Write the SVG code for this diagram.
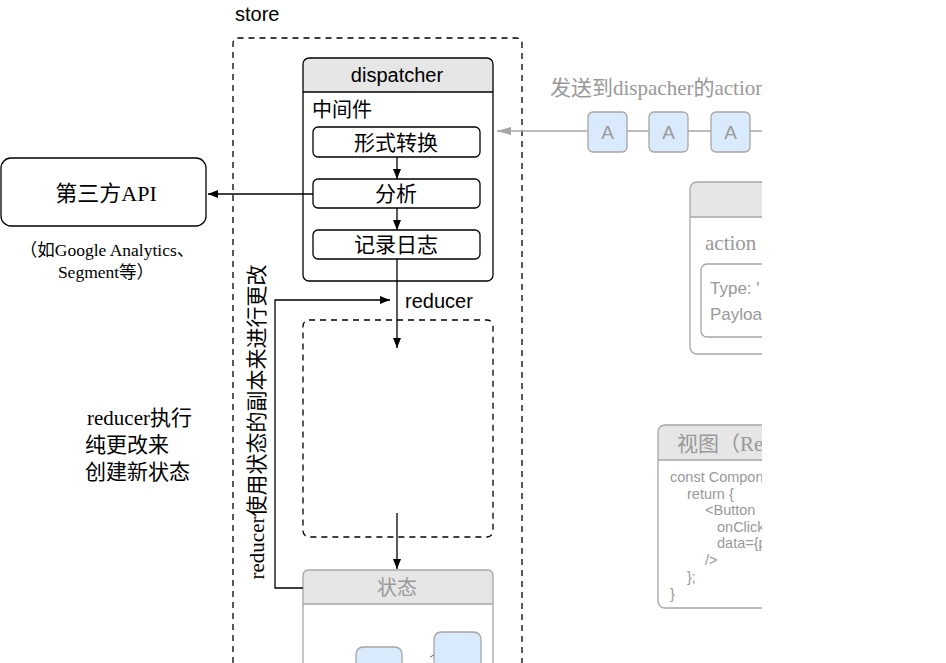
<svg xmlns="http://www.w3.org/2000/svg" width="946" height="663" viewBox="0 0 946 663">
<defs>
<style>
.sans{font-family:"Liberation Sans","Noto Sans CJK SC",sans-serif}
.serif{font-family:"Liberation Serif","Noto Sans CJK SC",serif}
.blk{fill:none;stroke:#000;stroke-width:1.3}
.gry{fill:none;stroke:#a6a6a6;stroke-width:1.3}
.hdr{fill:#e6e6e6}
.abox{fill:#d8eafb;stroke:#a6a6a6;stroke-width:1.3}
.gt{fill:#999}
</style>
<marker id="ab" viewBox="0 0 10 10" refX="10" refY="5" markerWidth="10" markerHeight="10" markerUnits="userSpaceOnUse" orient="auto"><path d="M0,1 L10,5 L0,9 z" fill="#000"/></marker>
<marker id="ag" viewBox="0 0 14 10" refX="0" refY="5" markerWidth="14" markerHeight="10" markerUnits="userSpaceOnUse" orient="auto"><path d="M14,1 L0,5 L14,9 z" fill="#a6a6a6"/></marker>
<clipPath id="clip"><rect x="0" y="0" width="762" height="663"/></clipPath>
</defs>
<rect width="946" height="663" fill="#fff"/>
<g clip-path="url(#clip)">
<g id="store">
<path d="M233,663 V44 Q233,38 239,38 H516 Q522,38 522,44 V663" fill="none" stroke="#000" stroke-width="1.3" stroke-dasharray="6,5"/>
<text x="235" y="21" class="sans" font-size="20">store</text>
</g>
<g id="dispatcher">
<path d="M303,92 V64 Q303,58 309,58 H487 Q493,58 493,64 V92 z" class="hdr"/>
<rect x="303" y="58" width="190" height="223" rx="6" class="blk"/>
<line x1="303" y1="92" x2="493" y2="92" stroke="#000" stroke-width="1.3"/>
<text x="397" y="82" text-anchor="middle" class="sans" font-size="20">dispatcher</text>
<text x="312" y="117" class="sans" font-size="20">中间件</text>
</g>
<g id="n-transform">
<rect x="313" y="127" width="167" height="30" rx="5" class="blk" fill="#fff"/>
<text x="396" y="150" text-anchor="middle" class="serif" font-size="21">形式转换</text>
</g>
<g id="n-analyze">
<rect x="313" y="179" width="167" height="29" rx="5" class="blk" fill="#fff"/>
<text x="396" y="201" text-anchor="middle" class="serif" font-size="21">分析</text>
</g>
<g id="n-log">
<rect x="313" y="230" width="167" height="29" rx="5" class="blk" fill="#fff"/>
<text x="396" y="252" text-anchor="middle" class="serif" font-size="21">记录日志</text>
</g>
<g id="n-api">
<rect x="1" y="158" width="205" height="68" rx="10" class="blk"/>
<text x="106" y="201" text-anchor="middle" class="serif" font-size="22">第三方API</text>
<text x="107" y="256" text-anchor="middle" class="serif" font-size="17.5">（如Google Analytics、</text>
<text x="106" y="278" text-anchor="middle" class="serif" font-size="17.5">Segment等）</text>
</g>
<g id="n-reducer">
<rect x="303" y="320" width="190" height="217" rx="6" fill="none" stroke="#000" stroke-width="1.3" stroke-dasharray="6,5"/>
<text x="405" y="308" class="sans" font-size="20">reducer</text>
</g>
<g id="n-state">
<path d="M303,604 V576 Q303,570 309,570 H487 Q493,570 493,576 V604 z" class="hdr"/>
<path d="M303,663 V576 Q303,570 309,570 H487 Q493,570 493,576 V663" class="gry"/>
<line x1="303" y1="604" x2="493" y2="604" stroke="#a6a6a6" stroke-width="1.3"/>
<text x="397" y="595" text-anchor="middle" class="serif gt" font-size="20">状态</text>
<path d="M356,663 V655 Q356,647 364,647 H394 Q402,647 402,655 V663" class="abox"/>
<path d="M434,663 V640 Q434,632 442,632 H473 Q481,632 481,640 V663" class="abox"/>
<path d="M430,657 L434,655" stroke="#666" stroke-width="1"/>
</g>
<g id="connectors">
<line x1="397" y1="157" x2="397" y2="179" class="blk" marker-end="url(#ab)"/>
<line x1="397" y1="208" x2="397" y2="230" class="blk" marker-end="url(#ab)"/>
<line x1="397" y1="259" x2="397" y2="348" class="blk" marker-end="url(#ab)"/>
<line x1="397" y1="513" x2="397" y2="569" class="blk" marker-end="url(#ab)"/>
<line x1="313" y1="194" x2="208" y2="194" class="blk" marker-end="url(#ab)"/>
<path d="M303,588 H275 V300 H390" class="blk" marker-end="url(#ab)"/>
<line x1="497" y1="131" x2="762" y2="131" stroke="#a6a6a6" stroke-width="1.3" marker-start="url(#ag)"/>
</g>
<text transform="translate(264,422) rotate(-90)" text-anchor="middle" class="serif" font-size="21">reducer使用状态的副本来进行更改</text>
<g id="reducer-note" class="serif" font-size="21">
<text x="87" y="425">reducer执行</text>
<text x="85" y="452">纯更改来</text>
<text x="85" y="479">创建新状态</text>
</g>
<g id="actions">
<text x="550" y="95" class="serif gt" font-size="21">发送到dispacher的action</text>
<rect x="588" y="112" width="39" height="40" rx="5" class="abox"/>
<text x="607.5" y="139" text-anchor="middle" class="sans gt" font-size="19">A</text>
<rect x="649" y="112" width="39" height="40" rx="5" class="abox"/>
<text x="668.5" y="139" text-anchor="middle" class="sans gt" font-size="19">A</text>
<rect x="711" y="112" width="39" height="40" rx="5" class="abox"/>
<text x="730.5" y="139" text-anchor="middle" class="sans gt" font-size="19">A</text>
</g>
<g id="n-action">
<path d="M690,217 V189 Q690,182 697,182 H800 V217 z" class="hdr"/>
<rect x="690" y="182" width="150" height="172" rx="7" class="gry"/>
<line x1="690" y1="217" x2="800" y2="217" stroke="#a6a6a6" stroke-width="1.3"/>
<text x="705" y="250" class="serif gt" font-size="21">action</text>
<rect x="701" y="264" width="120" height="73" rx="6" class="gry"/>
<text x="710" y="294" class="sans gt" font-size="17">Type: '</text>
<text x="710" y="320" class="sans gt" font-size="17">Payload</text>
</g>
<g id="n-view">
<path d="M658,460 V432 Q658,425 665,425 H800 V460 z" class="hdr"/>
<rect x="658" y="425" width="150" height="183" rx="7" class="gry"/>
<line x1="658" y1="460" x2="800" y2="460" stroke="#a6a6a6" stroke-width="1.3"/>
<text x="677" y="451" class="serif gt" font-size="21">视图（React）</text>
<g class="sans gt" font-size="14.5">
<text x="670" y="482">const Component</text>
<text x="687" y="499">return {</text>
<text x="705" y="515">&lt;Button</text>
<text x="717" y="532">onClick</text>
<text x="717" y="548">data={p</text>
<text x="705" y="565">/&gt;</text>
<text x="687" y="582">};</text>
<text x="670" y="599">}</text>
</g>
</g>
</g>
</svg>
